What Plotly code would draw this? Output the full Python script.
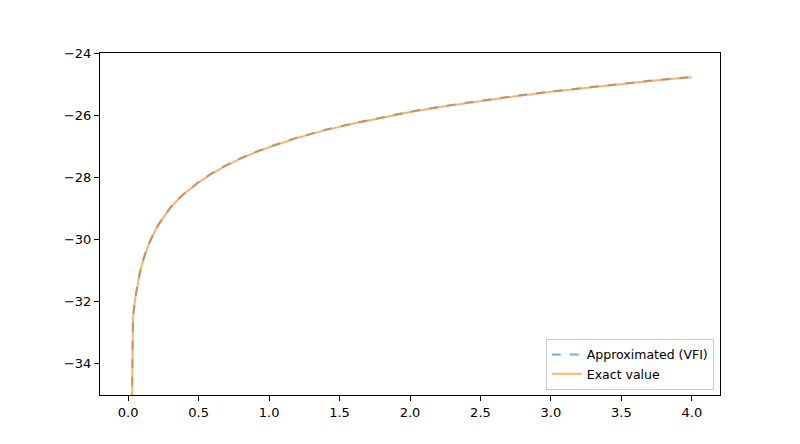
import plotly.graph_objects as go

# grid points and value function
grid = [0.00001, 0.034, 0.05, 0.067, 0.084, 0.10, 0.12, 0.15, 0.20, 0.25, 0.30,
        0.35, 0.40, 0.50, 0.60, 0.70, 0.80, 0.90, 1.0, 1.2, 1.4, 1.6, 1.8,
        2.0, 2.25, 2.5, 2.75, 3.0, 3.25, 3.5, 3.75, 4.0]
v_exact = [-45.72, -32.52, -31.89, -31.42, -31.05, -30.77, -30.47, -30.11, -29.64,
           -29.28, -28.98, -28.73, -28.52, -28.16, -27.86, -27.61, -27.39, -27.20,
           -27.03, -26.73, -26.48, -26.27, -26.08, -25.90, -25.71, -25.54, -25.39,
           -25.25, -25.12, -25.00, -24.88, -24.78]
v_vfi = [-45.70, -32.51, -31.88, -31.41, -31.04, -30.76, -30.46, -30.10, -29.63,
         -29.27, -28.97, -28.72, -28.51, -28.15, -27.85, -27.60, -27.38, -27.19,
         -27.02, -26.72, -26.47, -26.26, -26.07, -25.89, -25.70, -25.53, -25.38,
         -25.24, -25.11, -24.99, -24.87, -24.77]

fig = go.Figure()
fig.add_trace(go.Scatter(x=grid, y=v_vfi, mode="lines", name="Approximated (VFI)",
                         line=dict(color="rgba(31,119,180,0.6)", width=2, dash="dash")))
fig.add_trace(go.Scatter(x=grid, y=v_exact, mode="lines", name="Exact value",
                         line=dict(color="rgba(255,127,14,0.6)", width=2)))

axis_style = dict(showgrid=False, zeroline=False, showline=True, linecolor="black",
                  linewidth=1, mirror=True, ticks="outside", ticklen=5,
                  tickcolor="black", tickfont=dict(size=13, color="black"))
fig.update_xaxes(range=[-0.2, 4.2], tickvals=[0, 0.5, 1, 1.5, 2, 2.5, 3, 3.5, 4],
                 ticktext=["0.0", "0.5", "1.0", "1.5", "2.0", "2.5", "3.0", "3.5", "4.0"],
                 **axis_style)
fig.update_yaxes(range=[-35, -24], tickvals=[-34, -32, -30, -28, -26, -24],
                 ticktext=["\u221234", "\u221232", "\u221230", "\u221228", "\u221226", "\u221224"],
                 **axis_style)

# page has an 8px body margin, so the figure is a bit smaller than the window
fig.update_layout(
    width=792, height=436,
    margin=dict(l=92, r=80, t=45, b=49),
    paper_bgcolor="white", plot_bgcolor="white",
    font=dict(family="DejaVu Sans", size=13, color="black"),
    legend=dict(x=0.99, y=0.015, xanchor="right", yanchor="bottom",
                bgcolor="rgba(255,255,255,0.8)", bordercolor="#cccccc", borderwidth=1,
                font=dict(size=12.5), tracegroupgap=0),
)

fig.write_html("out.html")
